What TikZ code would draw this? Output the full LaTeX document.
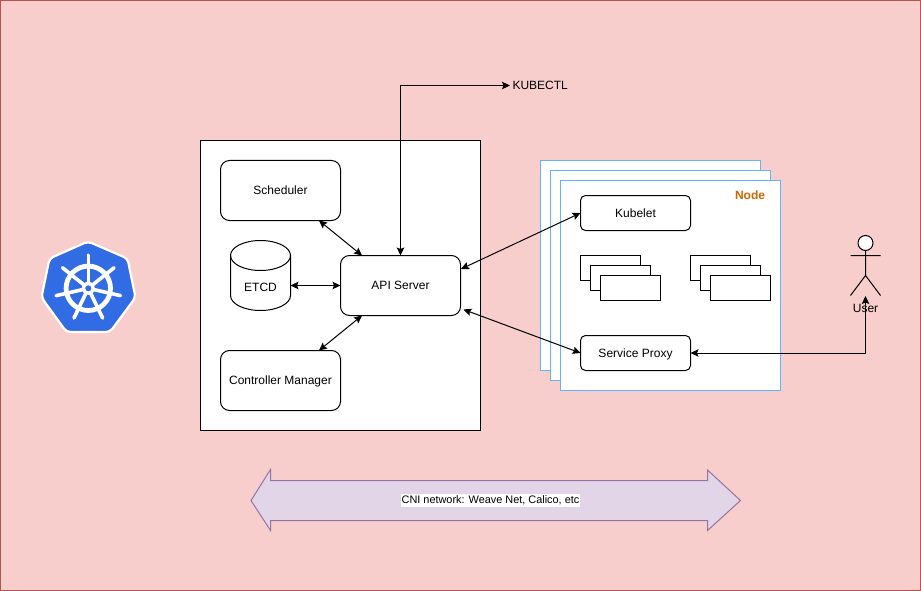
\documentclass[tikz,border=0pt]{standalone}
\usepackage{fontspec}
\setmainfont{Liberation Sans}
\usetikzlibrary{arrows.meta}
\definecolor{bgfill}{HTML}{F8CECC}
\definecolor{bgline}{HTML}{B85450}
\definecolor{nodeline}{HTML}{66B2FF}
\definecolor{netfill}{HTML}{E1D5E7}
\definecolor{netline}{HTML}{9673A6}
\definecolor{kblue}{HTML}{326CE5}
\definecolor{nodetxt}{HTML}{CC6600}
\tikzset{
  every node/.style={font=\fontsize{12}{14}\selectfont, inner sep=0pt, outer sep=0pt},
  box/.style={draw=black, fill=white, line width=1pt, rounded corners=9pt, align=center, text height=9.6pt, text depth=1.6pt},
  smallbox/.style={box, rounded corners=5pt},
  plainbox/.style={draw=black, fill=white, line width=1pt, minimum width=60pt, minimum height=25pt},
  nodepanel/.style={draw=nodeline, fill=white, line width=1pt, minimum width=220pt, minimum height=210pt},
  link/.style={line width=1pt, black, {Stealth[length=8pt,width=7.5pt,inset=1.5pt]}-{Stealth[length=8pt,width=7.5pt,inset=1.5pt]}}
}
\begin{document}
\begin{tikzpicture}[x=1pt,y=-1pt]
\useasboundingbox (0,0) rectangle (921,591);
\node[draw=bgline, fill=bgfill, line width=1pt, minimum width=920pt, minimum height=590pt] (bg) at (460.5,295.5) {};

% Logo
\draw[white, fill=kblue, line width=2.2pt, rounded corners=4pt]
  (88,241.5) -- (127.5,258.5) -- (135.5,297.5) -- (110,332) -- (66.5,332) -- (41.5,297.5) -- (49.5,258.5) -- cycle;
\begin{scope}[shift={(88.3,288.3)}]
  \draw[white, line width=4.8pt] (0,0) circle[radius=22.2];
  \foreach \a in {-90,-38.57,12.86,64.29,115.71,167.14,218.57}
    \draw[white, line width=3.6pt, line cap=round] (\a:3) -- (\a:33);
  \fill[white] (0,0) circle[radius=6.5];
  \fill[kblue] (0,0) circle[radius=3];
\end{scope}

% Master
\node[draw=black, fill=white, line width=1pt, minimum width=280pt, minimum height=290pt] (master) at (340.5,285.5) {};
\node[box, minimum width=120pt, minimum height=60pt] (sched) at (280.5,190.5) {Scheduler};
\node[box, minimum width=120pt, minimum height=60pt] (api) at (400.5,285.5) {API Server};
\node[box, minimum width=120pt, minimum height=60pt] (ctrl) at (280.5,380.5) {Controller Manager};
\node[minimum width=60pt, minimum height=70pt] (etcd) at (260.5,275.5) {};
\draw[line width=1pt, fill=white]
  (etcd.north west) ++(0,15) arc[x radius=30, y radius=-15, start angle=180, end angle=0]
  -- ++(0,40) arc[x radius=30, y radius=-15, start angle=0, end angle=-180] -- cycle;
\draw[line width=1pt]
  (etcd.north west) ++(0,15) arc[x radius=30, y radius=-15, start angle=-180, end angle=0];
\node[text height=9.6pt, text depth=1.6pt] (etcdlabel) at (260.5,287.5) {ETCD};

% Worker nodes
\node[nodepanel] (nodeA) at (650.5,265.5) {};
\node[nodepanel] (nodeB) at (660.5,275.5) {};
\node[nodepanel] (nodeC) at (670.5,285.5) {};
\node[text=nodetxt, font=\fontsize{12}{14}\selectfont\bfseries] (nodelabel) at (750,195) {Node};
\node[smallbox, minimum width=110pt, minimum height=35pt] (kubelet) at (635.5,213) {Kubelet};
\node[smallbox, minimum width=110pt, minimum height=35pt] (proxy) at (635.5,353) {Service Proxy};
\node[plainbox] (pa1) at (610.5,268) {};
\node[plainbox] (pa2) at (620.5,278) {};
\node[plainbox] (pa3) at (630.5,288) {};
\node[plainbox] (pb1) at (720.5,268) {};
\node[plainbox] (pb2) at (730.5,278) {};
\node[plainbox] (pb3) at (740.5,288) {};

% User
\node[draw=black, fill=white, line width=1pt, circle, minimum size=15pt] (head) at (865.5,243) {};
\coordinate (hip) at (865.5,275.5);
\coordinate (foot) at (865.5,296);
\draw[line width=1pt] (head.south) -- (hip) -- (850.5,295.5) (hip) -- (880.5,295.5) (850.5,255.5) -- (880.5,255.5);
\node[text height=9.6pt, text depth=1.6pt] (user) at (865.5,308.5) {User};

% Kubectl
\node[anchor=west] (kubectl) at (512.5,85) {KUBECTL};

% Connectors
\draw[link] ([xshift=-2.5pt,yshift=-0.5pt]kubectl.west) -- (400.5,85.5) -- (api.north);
\draw[link] ([xshift=38.5pt]sched.south) -- ([xshift=-38.5pt]api.north);
\draw[link] (etcd.east |- api.west) -- (api.west);
\draw[link] ([xshift=38.5pt]ctrl.north) -- ([xshift=-38.5pt]api.south);
\draw[link] ([xshift=0.5pt,yshift=16.5pt]api.east) -- (kubelet.west);
\draw[link] ([xshift=3pt,yshift=-24pt]api.east) -- (proxy.west);
\draw[link] (proxy.east) -- (865.5,353) -- (foot);

% CNI
\draw[draw=netline, fill=netfill, line width=1pt]
  (251,500.5) -- (270.5,469.5) -- (270.5,480.5) -- (707.5,480.5) -- (707.5,470) -- (740.5,500.5) -- (707.5,530.5) -- (707.5,520.5) -- (270.5,520.5) -- (270.5,530.5) -- cycle;
\node[fill=white, font=\fontsize{10.9}{13}\selectfont, inner xsep=0.5pt, inner ysep=1pt, text height=8pt, text depth=2.3pt] (cni) at (490.5,500.5) {CNI network: Weave Net, Calico, etc};
\end{tikzpicture}
\end{document}
